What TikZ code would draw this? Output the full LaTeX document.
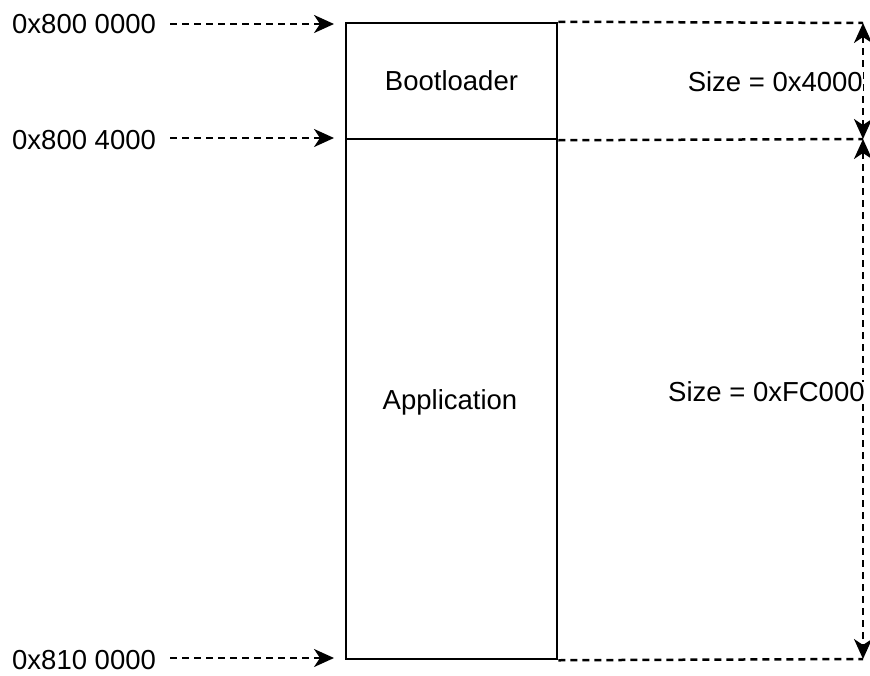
\documentclass[tikz,border=0pt]{standalone}
\usepackage{fontspec}
\setmainfont{Liberation Sans}
\usetikzlibrary{arrows.meta}
\begin{document}
\begin{tikzpicture}[x=1pt,y=-1pt,
  lbl/.style={inner sep=0pt,font=\fontsize{27.5}{32}\selectfont},
  mem/.style={draw,line width=2.5pt,minimum width=211pt,inner sep=0pt,font=\fontsize{27.5}{32}\selectfont},
  dashline/.style={line width=2.5pt,dash pattern=on 7pt off 5pt},
  tip/.style={-{Stealth[length=20pt,width=18pt,inset=6pt]}},
  bitip/.style={{Stealth[length=20pt,width=18pt,inset=6pt]}-{Stealth[length=20pt,width=18pt,inset=6pt]}}]
\useasboundingbox (0,0) rectangle (870,675);
% memory blocks
\node[mem,minimum height=116pt] (boot) at (451.5,81) {Bootloader};
\node[mem,minimum height=520pt] (app) at (451.5,399) {};
\node[lbl] (apptxt) at (450,402) {Application};
% left address labels
\node[lbl,anchor=west] (a1) at (12,24) {0x800 0000};
\node[lbl,anchor=west] (a2) at (12,140) {0x800 4000};
\node[lbl,anchor=west] (a3) at (12,660) {0x810 0000};
\coordinate (t1) at (334,24);
\coordinate (t2) at (334,138);
\coordinate (t3) at (334,658);
\draw[dashline,tip] ([xshift=14pt]a1.east |- t1) -- (t1);
\draw[dashline,tip] ([xshift=14pt]a2.east |- t2) -- (t2);
\draw[dashline,tip] ([xshift=14pt]a3.east |- t3) -- (t3);
% right dimension lines
\coordinate (r1) at (863,23);
\coordinate (r2) at (863,139);
\coordinate (r3) at (863,659);
\draw[dashline] (boot.north east) -- (r1);
\draw[dashline] (boot.south east) -- (r2);
\draw[dashline] (app.south east) -- (r3);
\draw[dashline,bitip] (r1) -- (r2);
\draw[dashline,bitip] (r2) -- (r3);
\node[lbl,fill=white,anchor=east] (s1) at (863,82) {Size = 0x4000};
\node[lbl,fill=white,anchor=west] (s2) at (668,392) {Size = 0xFC000};
\end{tikzpicture}
\end{document}
